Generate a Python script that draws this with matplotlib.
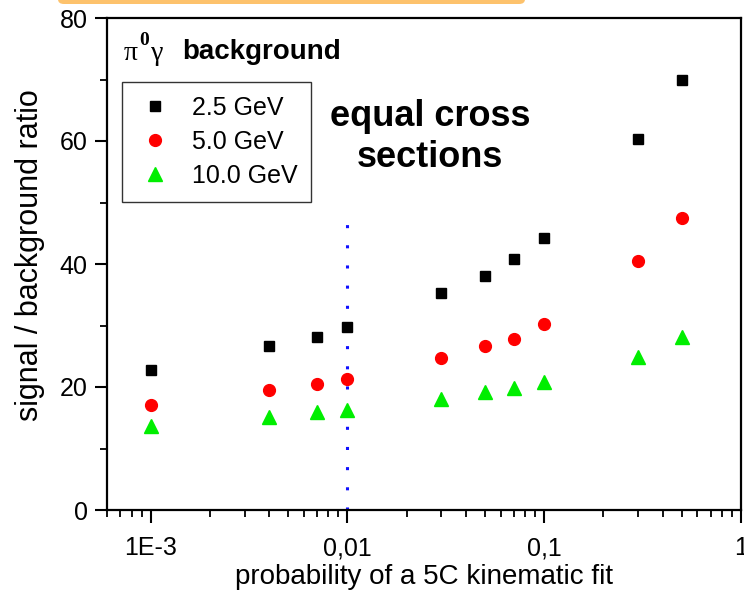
import matplotlib
matplotlib.use("Agg")
import matplotlib.pyplot as plt
from matplotlib.patches import FancyBboxPatch
from matplotlib.ticker import FixedLocator, FuncFormatter, LogLocator, NullFormatter, MultipleLocator

plt.rcParams['font.family'] = ['Liberation Sans', 'DejaVu Sans']

# Fit-probability cuts and resulting signal/background ratios
probability = [0.001, 0.004, 0.007, 0.01, 0.03, 0.05, 0.07, 0.1, 0.3, 0.5]
ratio_2p5 = [22.8, 26.7, 28.1, 29.8, 35.3, 38.0, 40.8, 44.2, 60.3, 69.9]
ratio_5p0 = [17.1, 19.5, 20.5, 21.3, 24.7, 26.7, 27.8, 30.2, 40.5, 47.5]
ratio_10p0 = [13.7, 15.1, 15.9, 16.3, 18.0, 19.2, 19.8, 20.8, 24.9, 28.1]
series_labels = ["2.5 GeV", "5.0 GeV", "10.0 GeV"]
cut_value = 0.01
cut_top = 48.5
x_tick_values = [0.001, 0.01, 0.1, 1]
x_tick_labels = ["1E-3", "0,01", "0,1", "1"]

fig = plt.figure(figsize=(7.44, 5.94), dpi=100)
W, H = 744, 594
ax = fig.add_axes([107 / W, 1 - 510 / H, (741 - 107) / W, (510 - 18) / H])


def ax_pos(px, py):
    """Pixel position in the figure -> axes fraction."""
    return (px - 107) / 634, 1 - (py - 18) / 492


# orange header strip at the very top of the page
fig.patches.append(FancyBboxPatch((58 / W, 1 - 4 / H), (525 - 58) / W, 20 / H,
                                  boxstyle="round,pad=0,rounding_size=0.008",
                                  transform=fig.transFigure, facecolor="#FDC26C",
                                  edgecolor="none", zorder=0))

ax.plot(probability, ratio_2p5, linestyle="none", marker="s", ms=7.5, color="black",
        label=series_labels[0], zorder=3)
ax.plot(probability, ratio_5p0, linestyle="none", marker="o", ms=8.5, color="#FF0000",
        mec="#FF0000", label=series_labels[1], zorder=3)
ax.plot(probability, ratio_10p0, linestyle="none", marker="^", ms=10, color="#00EE00",
        mec="#00EE00", label=series_labels[2], zorder=3)

# cut on the fit probability
ax.plot([cut_value, cut_value], [0, cut_top], color="#1010FF", linestyle=(0, (1, 5.6)),
        lw=2.2, zorder=2)

ax.set_xscale("log")
ax.set_xlim(6e-4, 1)
ax.set_ylim(0, 80)

ax.xaxis.set_major_locator(FixedLocator(x_tick_values))
ax.xaxis.set_major_formatter(FuncFormatter(
    lambda v, p: dict(zip(x_tick_values, x_tick_labels)).get(v, "")))
ax.xaxis.set_minor_locator(LogLocator(base=10, subs=range(2, 10), numticks=20))
ax.xaxis.set_minor_formatter(NullFormatter())
ax.yaxis.set_major_locator(MultipleLocator(20))
ax.yaxis.set_minor_locator(MultipleLocator(10))

ax.tick_params(axis="both", which="major", direction="out", length=9, width=1.5,
               labelsize=18, pad=5, top=False, right=False)
ax.tick_params(axis="x", which="major", pad=10)
ax.tick_params(axis="both", which="minor", direction="out", length=5, width=1.3,
               top=False, right=False)
for s in ax.spines.values():
    s.set_linewidth(1.6)

ax.set_xlabel("probability of a 5C kinematic fit", fontsize=20)
ax.xaxis.set_label_coords(*ax_pos(424, 577))
ax.xaxis.label.set_va("center")
ax.set_ylabel("signal / background ratio", fontsize=22)
ax.yaxis.set_label_coords(*ax_pos(30, 255))
ax.yaxis.label.set_va("center")

leg = ax.legend(loc="upper left", bbox_to_anchor=ax_pos(122, 82),
                frameon=True, fancybox=False, fontsize=18, handletextpad=0.75,
                borderpad=0.55, labelspacing=0.4, handlelength=1.5, borderaxespad=0)
leg.get_frame().set_edgecolor("black")
leg.get_frame().set_linewidth(1.0)

# pi0 gamma label: upright serif Greek letters with a raised zero
ax.text(*ax_pos(124, 60), "\u03c0", transform=ax.transAxes, fontsize=20,
        family="Liberation Serif", va="baseline", ha="left")
ax.text(*ax_pos(139, 45), "0", transform=ax.transAxes, fontsize=14,
        family="Liberation Serif", fontweight="bold", va="baseline", ha="left")
ax.text(*ax_pos(151, 60), "\u03b3", transform=ax.transAxes, fontsize=20,
        family="Liberation Serif", va="baseline", ha="left")
ax.text(*ax_pos(182, 52), "background", transform=ax.transAxes,
        fontsize=20, fontweight="bold", va="center", ha="left")

ax.text(*ax_pos(430, 137), "equal cross\nsections",
        transform=ax.transAxes, fontsize=26, fontweight="bold", ha="center", va="center",
        linespacing=1.25)

fig.savefig("out.png", dpi=100)
